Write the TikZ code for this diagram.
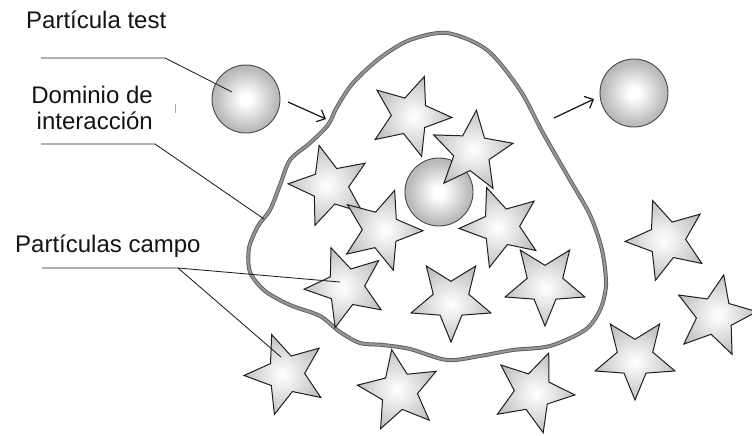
\documentclass[tikz,border=0pt]{standalone}
\usepackage{fontspec}
\setmainfont{Liberation Sans}
\usetikzlibrary{shapes.geometric,arrows.meta,calc}

% shaded fills for the particles
\pgfdeclareradialshading{ballshading}{\pgfpoint{0bp}{0bp}}{%
  color(0bp)=(white); color(4bp)=(white); color(22bp)=(black!26);
  color(40bp)=(black!40); color(50bp)=(black!52)}
\pgfdeclareradialshading{starshading}{\pgfpoint{0bp}{0bp}}{%
  color(0bp)=(white); color(6bp)=(black!5); color(25bp)=(black!24);
  color(50bp)=(black!48)}

\tikzset{
  ball/.style={circle, draw=black!72, line width=0.9pt, minimum size=68pt,
    inner sep=0pt, shading=ballshading, shade},
  fieldstar/.style={star, star points=5, star point ratio=2.25,
    minimum size=84pt, inner sep=0pt, draw=black!88, line width=1pt,
    shading=starshading, shade},
  lbltext/.style={font=\fontsize{24}{28}\selectfont, text=black!92,
    inner sep=0pt},
  leader/.style={line width=0.85pt, draw=black!88},
  motion/.style={line width=1.2pt, draw=black!92,
    -{Straight Barb[length=7pt,width=13pt]}},
  ribbonout/.style={line width=4pt, draw=black!64},
  ribbonin/.style={line width=2.3pt, draw=black!42}
}

\begin{document}
\begin{tikzpicture}[x=1pt, y=-1pt]
\useasboundingbox[fill=white] (0,0) rectangle (752,436);

% interaction domain outline
\def\domainpath{plot[smooth cycle, tension=0.5] coordinates {
  (447,33) (487,50) (520,90) (543,133) (570,180) (590,215) (602,250)
  (606,285) (600,310) (585,330) (550,346) (513,350) (480,356) (447,360)
  (410,349) (383,345) (360,343) (340,332) (320,316) (290,305) (265,291)
  (250,272) (249,248) (258,226) (270,210) (280,185) (290,160) (310,143)
  (328,125) (337,107) (353,83) (380,58) (410,40)}}
\draw[ribbonout] \domainpath;
\draw[ribbonin] \domainpath;
\coordinate (domL) at (264,219);

% central particle
\node[ball] (core) at (439,192) {};

% field particles
\node[fieldstar, rotate=15]  (sA) at (330,186) {};
\node[fieldstar, rotate=-19] (sB) at (381,230) {};
\node[fieldstar, rotate=-20] (s1) at (410,116) {};
\node[fieldstar, rotate=-6]  (s2) at (472,152) {};
\node[fieldstar, rotate=21]  (sC) at (346,287) {};
\node[fieldstar, rotate=20]  (sD) at (501,227) {};
\node[fieldstar, rotate=36]  (sE) at (451,300) {};
\node[fieldstar, rotate=36]  (sF) at (545,284) {};
\node[fieldstar, rotate=20]  (sG) at (286,374) {};
\node[fieldstar, rotate=10]  (sH) at (399,391) {};
\node[fieldstar, rotate=-22] (sI) at (533,392) {};
\node[fieldstar, rotate=36]  (sJ) at (635,358) {};
\node[fieldstar, rotate=-12] (sK) at (715,316) {};
\node[fieldstar, rotate=20]  (sL) at (667,240) {};

% test particle before and after
\node[ball] (testin)  at (246,99) {};
\node[ball] (testout) at (634,93) {};

% motion of the test particle
\coordinate (a1s) at (288,102);
\coordinate (a1e) at (326,119);
\coordinate (a2s) at (554,118);
\coordinate (a2e) at (594,99);
\draw[motion] (a1s) -- (a1e);
\draw[motion] (a2s) -- (a2e);

% labels
\node[lbltext, anchor=base west] (ltest) at (26,29) {Partícula test};
\node[lbltext, anchor=base east] (ldom1) at (153,103) {Dominio de};
\node[lbltext, anchor=base east] (ldom2) at (153,129) {interacción};
\node[lbltext, anchor=base west] (lcampo) at (15,252) {Partículas campo};

% leader lines
\coordinate (t1) at (41,58);
\coordinate (t2) at (41,144);
\coordinate (t3) at (42,268);
\coordinate (fork) at (178,268);
\draw[leader] (t1) -- ++(124,0) -- ($(testin)+(-14,-7)$);
\draw[leader] (t2) -- ++(114,0) -- (domL);
\draw[leader] (t3) -- (fork) -- ($(sC)+(-6,-5)$);
\draw[leader] (fork) -- ($(sG)+(-5,-17)$);

% small mark
\draw[black!35, line width=0.8pt] (175,104) -- (175,113);
\end{tikzpicture}
\end{document}
